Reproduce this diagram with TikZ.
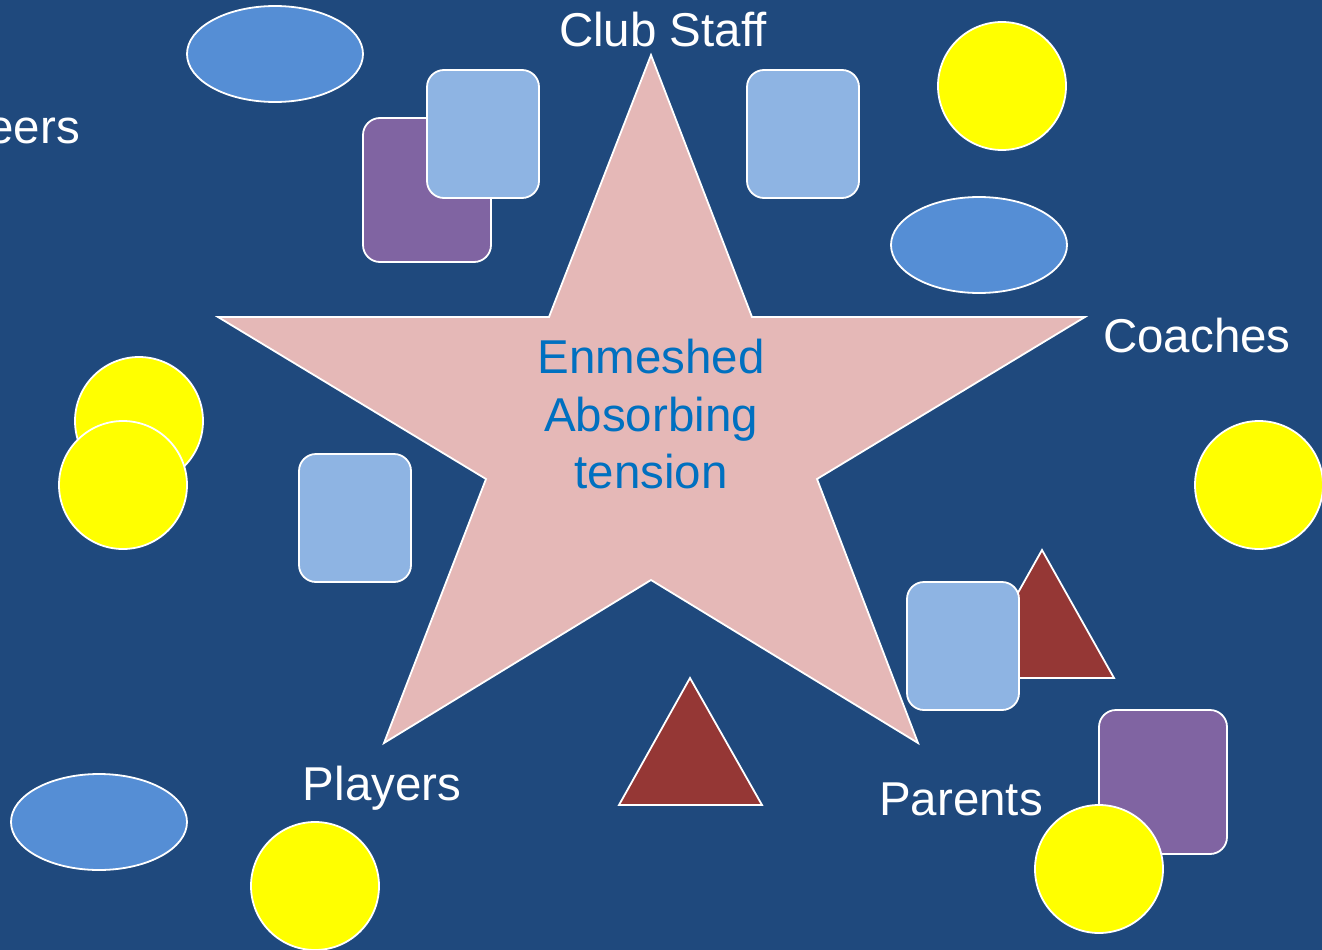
\documentclass[tikz,border=0pt]{standalone}
\usepackage{fontspec}
\setmainfont{Liberation Sans}
\usetikzlibrary{shapes.geometric}
\definecolor{bgblue}{HTML}{1F497D}
\definecolor{starpink}{HTML}{E5B8B7}
\definecolor{startext}{HTML}{0070C0}
\definecolor{ellblue}{HTML}{558ED5}
\definecolor{lightblue}{HTML}{8EB4E3}
\definecolor{purp}{HTML}{8064A2}
\definecolor{darkred}{HTML}{953735}
\definecolor{sunyellow}{RGB}{255,255,0}
\tikzset{
  outl/.style={draw=white, line width=1.8pt},
  sun/.style={outl, circle, fill=sunyellow, minimum size=128pt, inner sep=0pt},
  oval/.style={outl, ellipse, fill=ellblue, minimum width=176pt, minimum height=96pt, inner sep=0pt},
  card/.style={outl, rectangle, rounded corners=17pt, minimum width=112pt, minimum height=128pt, inner sep=0pt},
  lcard/.style={card, fill=lightblue},
  pcard/.style={card, fill=purp, minimum width=128pt, minimum height=144pt},
  tri/.style={outl, fill=darkred, line join=miter},
  lbl/.style={text=white, inner sep=0pt, font=\fontsize{47.5}{57}\selectfont},
  startxt/.style={text=startext, inner sep=0pt, font=\fontsize{47.5}{57}\selectfont}
}
\begin{document}
\begin{tikzpicture}[x=1pt, y=-1pt]
\useasboundingbox (0,0) rectangle (1322,950);
\clip (0,0) rectangle (1322,950);
\fill[bgblue] (0,0) rectangle (1322,950);
% star
\draw[outl, fill=starpink, line join=miter] (651,55) -- (752,317) -- (1085,317) -- (817,479) -- (918,743) -- (651,580) -- (384,743) -- (486,479) -- (218,317) -- (549,317) -- cycle;
\node[startxt, anchor=base] (t1) at (651,373) {Enmeshed};
\node[startxt, anchor=base] (t2) at (651,431) {Absorbing};
\node[startxt, anchor=base] (t3) at (651,488) {tension};
% labels
\node[lbl, anchor=base] (staff) at (663,47) {Club Staff};
\node[lbl, anchor=base] (coaches) at (1197,352) {Coaches};
\node[lbl, anchor=base] (players) at (382,800) {Players};
\node[lbl, anchor=base] (parents) at (961,815) {Parents};
\node[lbl, anchor=base east] (vol) at (80,143) {eers};
% top left cluster
\node[oval] (e1) at (275,54) {};
\node[pcard] (p1) at (427,190) {};
\node[lcard] (b1) at (483,134) {};
\node[lcard] (b2) at (803,134) {};
\node[sun] (s1) at (1002,86) {};
\node[oval] (e2) at (979,245) {};
% left
\node[sun] (s2) at (139,421) {};
\node[sun] (s3) at (123,485) {};
\node[lcard] (b3) at (355,518) {};
\node[sun] (s4) at (1259,485) {};
% right triangle and card
\draw[tri] (1042,550) -- (1114,678) -- (970,678) -- cycle;
\node[lcard] (b4) at (963,646) {};
\node[pcard] (p2) at (1163,782) {};
\node[sun] (s5) at (1099,869) {};
% bottom
\draw[tri] (690,678) -- (762,805) -- (619,805) -- cycle;
\node[oval] (e3) at (99,822) {};
\node[sun] (s6) at (315,886) {};
\end{tikzpicture}
\end{document}
